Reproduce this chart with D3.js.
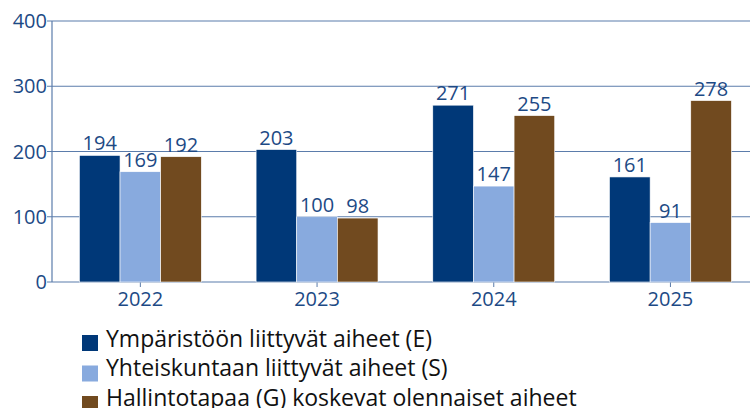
<!DOCTYPE html>
<html>
<head>
<meta charset="utf-8">
<script src="https://cdn.jsdelivr.net/npm/d3@7"></script>
<style>
  body { margin: 0; background: #fff; overflow: hidden; }
  text { font-family: 'Open Sans', sans-serif; }
</style>
</head>
<body>
<div id="container"></div>
<script>
const years = ['2022', '2023', '2024', '2025']
const seriesNames = [
  'Ympäristöön liittyvät aiheet (E)',
  'Yhteiskuntaan liittyvät aiheet (S)',
  'Hallintotapaa (G) koskevat olennaiset aiheet'
]
const envValues = [194, 203, 271, 161]
const socValues = [169, 100, 147, 91]
const govValues = [192, 98, 255, 278]
const yTicks = [0, 100, 200, 300, 400]
const colors = ['#003878', '#88aade', '#714a1f']

const w = 750
const h = 408
const plotLeft = 52
const plotTop = 21
const plotBottom = 282
const textColor = '#1d4a85'
const axisColor = '#5b7cab'

const svg = d3.select('#container')
              .append('svg')
              .attr('width', w)
              .attr('height', h)
              .style('display', 'block')

const series = [envValues, socValues, govValues]

// Scales
const xScale = d3.scaleBand()
                 .domain(years)
                 .range([plotLeft, plotLeft + 4 * 176.7])
                 .paddingInner(0.31)
                 .paddingOuter(0.155)
const xInner = d3.scaleBand()
                 .domain(d3.range(series.length))
                 .range([0, xScale.bandwidth()])
const yScale = d3.scaleLinear()
                 .domain([0, 400])
                 .range([plotBottom, plotTop])

// Gridlines
svg.append('g')
   .selectAll('line')
   .data(yTicks)
   .enter()
   .append('line')
   .attr('x1', plotLeft - 5)
   .attr('x2', w)
   .attr('y1', d => yScale(d))
   .attr('y2', d => yScale(d))
   .attr('stroke', axisColor)
   .attr('stroke-width', 1.2)

// Y axis line
svg.append('line')
   .attr('x1', plotLeft).attr('x2', plotLeft)
   .attr('y1', plotTop).attr('y2', plotBottom)
   .attr('stroke', axisColor)
   .attr('stroke-width', 1.2)

// Y labels
svg.append('g')
   .selectAll('text')
   .data(yTicks)
   .enter()
   .append('text')
   .attr('x', plotLeft - 5)
   .attr('y', d => yScale(d))
   .attr('dy', '0.36em')
   .attr('text-anchor', 'end')
   .attr('fill', textColor)
   .attr('font-size', 20)
   .text(d => d)

// X ticks + labels
const xg = svg.append('g')
xg.selectAll('line')
  .data(years)
  .enter()
  .append('line')
  .attr('x1', d => xScale(d) + xScale.bandwidth() / 2)
  .attr('x2', d => xScale(d) + xScale.bandwidth() / 2)
  .attr('y1', plotBottom)
  .attr('y2', plotBottom + 5)
  .attr('stroke', axisColor)
xg.selectAll('text')
  .data(years)
  .enter()
  .append('text')
  .attr('x', d => xScale(d) + xScale.bandwidth() / 2)
  .attr('y', plotBottom + 24)
  .attr('text-anchor', 'middle')
  .attr('fill', textColor)
  .attr('font-size', 20)
  .text(d => d)

// Bars
series.forEach((vals, i) => {
  const g = svg.append('g')
  g.selectAll('rect')
   .data(vals)
   .enter()
   .append('rect')
   .attr('x', (d, j) => xScale(years[j]) + xInner(i))
   .attr('y', d => yScale(d))
   .attr('width', xInner.bandwidth())
   .attr('height', d => plotBottom - yScale(d))
   .attr('fill', colors[i])
   .attr('stroke', '#fff')
   .attr('stroke-width', 0.6)
  g.selectAll('text')
   .data(vals)
   .enter()
   .append('text')
   .attr('x', (d, j) => xScale(years[j]) + xInner(i) + xInner.bandwidth() / 2)
   .attr('y', d => yScale(d) - 5)
   .attr('text-anchor', 'middle')
   .attr('fill', textColor)
   .attr('font-size', 20)
   .text(d => d)
})

// Legend
const legend = svg.append('g')
legend.selectAll('rect')
      .data(seriesNames)
      .enter()
      .append('rect')
      .attr('x', 82)
      .attr('y', (d, i) => 335 + i * 30.5)
      .attr('width', 16)
      .attr('height', 16)
      .attr('fill', (d, i) => colors[i])
legend.selectAll('text')
      .data(seriesNames)
      .enter()
      .append('text')
      .attr('x', 106)
      .attr('y', (d, i) => 346.5 + i * 29.5)
      .attr('fill', '#111')
      .attr('font-size', 23)
      .text(d => d)
</script>
</body>
</html>
